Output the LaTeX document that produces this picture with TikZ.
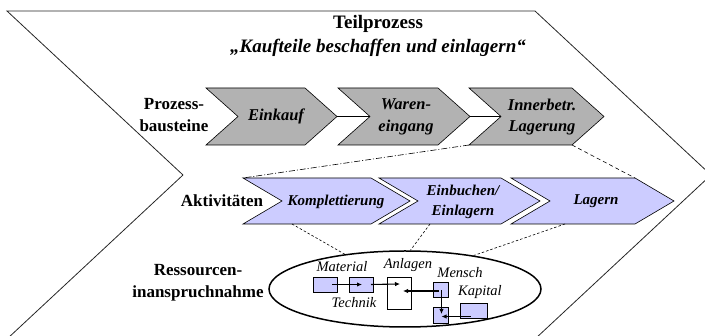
\documentclass[tikz,border=0pt]{standalone}
\usepackage{fontspec}
\setmainfont{Liberation Serif}
\usetikzlibrary{arrows.meta,calc,shapes.geometric}
\definecolor{gfill}{RGB}{178,178,178}
\definecolor{pfill}{RGB}{204,204,255}
\begin{document}
\begin{tikzpicture}[x=1pt,y=-1pt,
  outl/.style={draw=black!85,line width=0.8pt},
  gchev/.style={draw=black,line width=0.6pt,fill=gfill},
  pchev/.style={draw=black,line width=0.6pt,fill=pfill},
  lbl/.style={font=\fontsize{17}{22}\selectfont\bfseries,align=center,inner sep=0pt},
  ttl/.style={font=\fontsize{19}{24}\selectfont\bfseries,inner sep=0pt},
  gtxt/.style={font=\fontsize{16.5}{21.5}\selectfont\bfseries\itshape,align=center,inner sep=0pt},
  ptxt/.style={font=\fontsize{15}{20}\selectfont\bfseries\itshape,align=center,inner sep=0pt},
  rtxt/.style={font=\fontsize{14.5}{16}\selectfont\itshape,inner sep=0pt},
  rbox/.style={draw=black,line width=0.6pt,fill=pfill,inner sep=0pt},
  link/.style={line width=1.4pt},
  dd/.style={line width=0.6pt,dash pattern=on 6pt off 2pt on 1pt off 2pt},
  ds/.style={line width=0.6pt,dash pattern=on 4pt off 3pt},
  dt/.style={line width=0.6pt,dash pattern=on 2.5pt off 2pt},
  arr/.style={line width=1.1pt,-{Latex[length=5pt,width=4.5pt]}},
  ]
\useasboundingbox (0,0) rectangle (705,336);
% big outline
\begin{scope}
\clip (0,0) rectangle (705,336);
\draw[outl] (183,175) -- (7,11) -- (535,11) -- (711,175) -- (535,339);
\draw[outl] (183,175) -- (7,339);
\end{scope}
% title
\node[ttl] (t1) at (378,24) {Teilprozess};
\node[ttl,font=\fontsize{19}{24}\selectfont\bfseries\itshape] (t2) at (378,48) {„Kaufteile beschaffen und einlagern“};
% gray chevrons
\draw[gchev] (206,88) -- (305,88) -- (337,116.5) -- (305,145) -- (206,145) -- (238,116.5) -- cycle;
\draw[gchev] (338,88) -- (438,88) -- (470,116.5) -- (438,145) -- (338,145) -- (370,116.5) -- cycle;
\draw[gchev] (469,88) -- (572,88) -- (604,116.5) -- (572,145) -- (469,145) -- (501,116.5) -- cycle;
\coordinate (g1tip) at (337,116.5);
\coordinate (g2notch) at (370,116.5);
\coordinate (g2tip) at (470,116.5);
\coordinate (g3notch) at (501,116.5);
\coordinate (g3bl) at (469,145);
\coordinate (g3br) at (572,145);
\draw[link] (g1tip) -- (g2notch);
\draw[link] (g2tip) -- (g3notch);
\node[lbl] (lb1) at (174,115) {Prozess-\\bausteine};
\node[gtxt] (g1) at (276,116.5) {Einkauf};
\node[gtxt] (g2) at (406,117) {Waren-\\eingang};
\node[gtxt] (g3) at (542,117) {Innerbetr.\\Lagerung};
% purple chevrons
\draw[pchev] (243,178) -- (371,178) -- (410,201) -- (371,224) -- (243,224) -- (282,201) -- cycle;
\draw[pchev] (379,178) -- (501,178) -- (540,201) -- (501,224) -- (379,224) -- (418,201) -- cycle;
\draw[pchev] (511,178) -- (635,178) -- (674,201) -- (635,224) -- (511,224) -- (550,201) -- cycle;
\coordinate (p1tl) at (243,178);
\coordinate (p3tr) at (635,178);
\coordinate (p1b) at (292,224);
\coordinate (p2b) at (430,224);
\coordinate (p3b) at (565,224);
\node[lbl] (lb2) at (222,201) {Aktivitäten};
\node[ptxt] (p1) at (336,202) {Komplettierung};
\node[ptxt] (p2) at (463,202) {Einbuchen/\\Einlagern};
\node[ptxt] (p3) at (596,201) {Lagern};
\draw[dd] (g3bl) -- (p1tl);
\draw[ds] (g3br) -- (p3tr);
% resources
\node[lbl] (lb3) at (198,283) {Ressourcen-\\inanspruchnahme};
\node[draw,ellipse,line width=1.5pt,minimum width=272,minimum height=76,inner sep=0pt] (ell) at (405,289) {};
\draw[dt] (p1b) -- (ell.150);
\draw[dt] (p2b) -- (ell.82);
\draw[dt] (p3b) -- (ell.26);
\node[rbox,minimum width=24,minimum height=15] (bA) at (325,284.5) {};
\node[rbox,minimum width=24,minimum height=15] (bB) at (361,284.5) {};
\node[rbox,fill=white,minimum width=24,minimum height=32] (anl) at (399,293) {};
\node[rbox,minimum width=15,minimum height=15] (men) at (440.5,289.5) {};
\node[rbox,minimum width=15,minimum height=16] (men2) at (440.5,315) {};
\node[rbox,minimum width=27,minimum height=15] (kap) at (473.5,310.5) {};
\node[rtxt] (rMat) at (342,267) {Material};
\node[rtxt] (rAnl) at (408,265) {Anlagen};
\node[rtxt] (rMen) at (460,273) {Mensch};
\node[rtxt] (rKap) at (480,292) {Kapital};
\node[rtxt] (rTec) at (354,303) {Technik};
\draw[arr] ($(bA.center)+(7,0)$) -- ($(bB.center)+(1,0)$);
\draw[arr] ($(bB.center)+(10,0)$) -- ($(anl.center)+(1,-9)$);
\draw[arr] ($(men.center)+(-2,1.5)$) -- ($(anl.center)+(4,-2)$);
\draw[arr] ($(men.center)+(1,1)$) -- ($(men2.center)+(1,-1)$);
\draw[arr] ($(kap.center)+(-3,6)$) -- ($(men2.center)+(1,1.5)$);
\end{tikzpicture}
\end{document}
